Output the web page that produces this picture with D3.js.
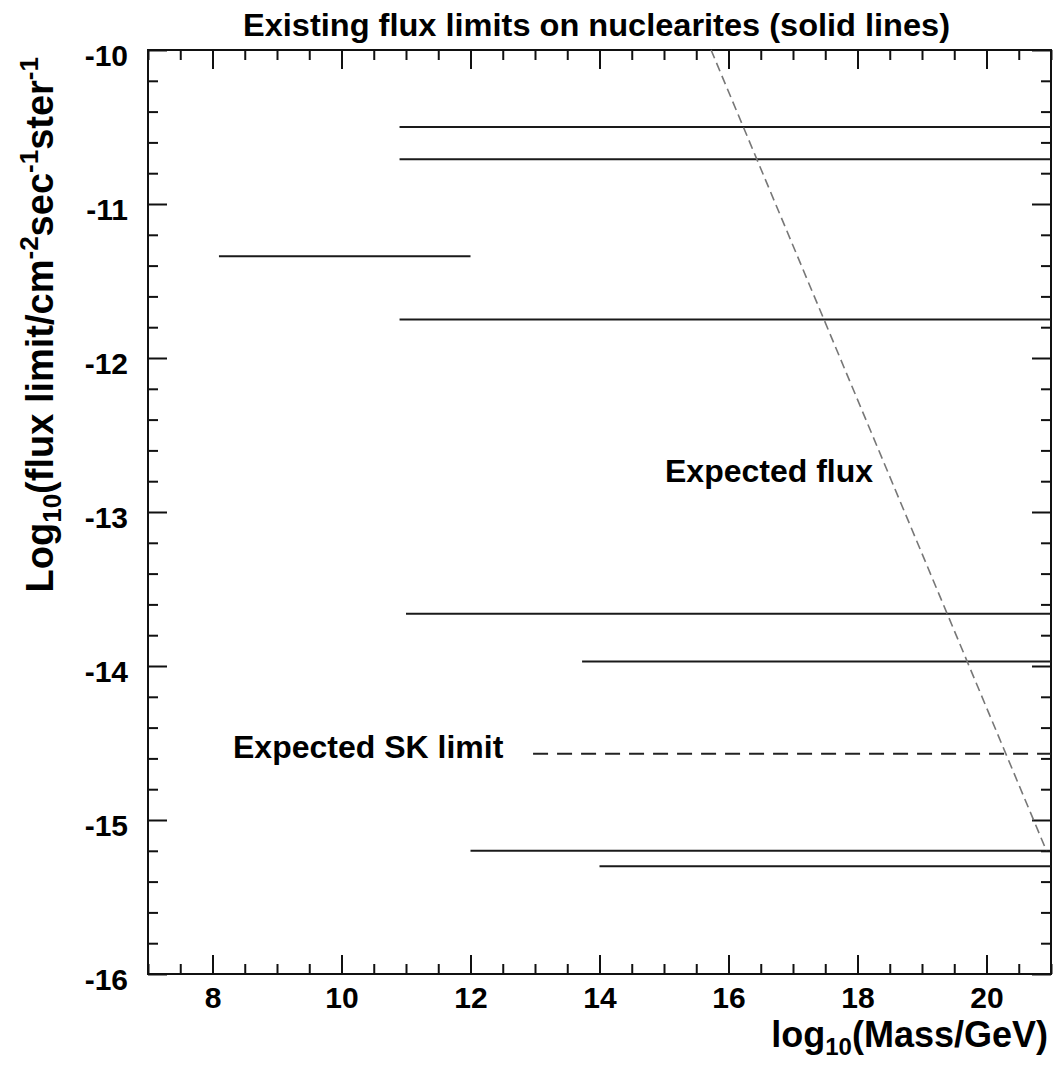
<!DOCTYPE html>
<html>
<head>
<meta charset="utf-8">
<script src="https://cdn.jsdelivr.net/npm/d3@7"></script>
<style>
  body { margin: 0; background: #fff; }
  svg { display: block; }
  text { font-family: "Liberation Sans", Arial, sans-serif; }
</style>
</head>
<body>
<div id="chart"></div>
<script>
// existing limits (solid lines): mass range start/end and flux value
var limitStart = [10.9, 10.9, 8.1, 10.9, 11.0, 13.73, 12.0, 14.0];
var limitEnd   = [21, 21, 12.0, 21, 21, 21, 21, 21];
var limitFlux  = [-10.5, -10.71, -11.34, -11.75, -13.66, -13.97, -15.2, -15.3];

// expected SK limit (dashed)
var skMass = [12.97, 21];
var skFlux = [-14.57, -14.57];

// expected flux (grey dashed diagonal)
var expMass = [15.73, 20.93];
var expFlux = [-10, -15.2];

var xMajor = [8, 10, 12, 14, 16, 18, 20];
var yMajor = [-16, -15, -14, -13, -12, -11, -10];

function init() {
    var W = 1056, H = 1065;
    var margin = { top: 50, right: 5, bottom: 91, left: 148 };
    var w = W - margin.left - margin.right;
    var h = H - margin.top - margin.bottom;

    var root = d3.select("#chart").append("svg")
                 .attr("width", W)
                 .attr("height", H);

    var svg = root.append("g")
                  .attr("transform", "translate(" + margin.left + "," + margin.top + ")");

    var x = d3.scaleLinear().domain([7, 21]).range([0, w]);
    var y = d3.scaleLinear().domain([-16, -10]).range([h, 0]);

    var xMinor = d3.range(7, 21.001, 0.5).filter(v => xMajor.indexOf(v) < 0);
    var yMinor = d3.range(-16, -9.999, 0.2).map(v => +v.toFixed(1)).filter(v => yMajor.indexOf(v) < 0);

    // axes with inward ticks
    function styleAxis(g) {
        g.select(".domain").remove();
        g.selectAll(".tick line").attr("stroke", "#111").attr("stroke-width", 2);
    }

    svg.append("g").attr("transform", "translate(0," + h + ")")
       .call(d3.axisBottom(x).tickValues(xMajor).tickSizeInner(-19).tickSizeOuter(0).tickPadding(13).tickFormat(d3.format("d")))
       .call(styleAxis)
       .selectAll("text")
       .attr("font-size", 30).attr("font-weight", "bold").attr("fill", "#000")
       .attr("font-family", "Liberation Sans, Arial, sans-serif");
    svg.append("g").attr("transform", "translate(0," + h + ")")
       .call(d3.axisBottom(x).tickValues(xMinor).tickSizeInner(-10).tickSizeOuter(0).tickFormat(""))
       .call(styleAxis);
    svg.append("g")
       .call(d3.axisTop(x).tickValues(xMajor).tickSizeInner(-19).tickSizeOuter(0).tickFormat(""))
       .call(styleAxis);
    svg.append("g")
       .call(d3.axisTop(x).tickValues(xMinor).tickSizeInner(-10).tickSizeOuter(0).tickFormat(""))
       .call(styleAxis);

    svg.append("g")
       .call(d3.axisLeft(y).tickValues(yMajor).tickSizeInner(-19).tickSizeOuter(0).tickPadding(20).tickFormat(d => d3.format("d")(d).replace("−", "-")))
       .call(styleAxis)
       .selectAll("text")
       .attr("dy", "0.5em")
       .attr("font-size", 30).attr("font-weight", "bold").attr("fill", "#000")
       .attr("font-family", "Liberation Sans, Arial, sans-serif");
    svg.append("g")
       .call(d3.axisLeft(y).tickValues(yMinor).tickSizeInner(-10).tickSizeOuter(0).tickFormat(""))
       .call(styleAxis);
    svg.append("g").attr("transform", "translate(" + w + ",0)")
       .call(d3.axisRight(y).tickValues(yMajor).tickSizeInner(-19).tickSizeOuter(0).tickFormat(""))
       .call(styleAxis);
    svg.append("g").attr("transform", "translate(" + w + ",0)")
       .call(d3.axisRight(y).tickValues(yMinor).tickSizeInner(-10).tickSizeOuter(0).tickFormat(""))
       .call(styleAxis);

    // frame
    svg.append("rect")
       .attr("x", 0).attr("y", 0).attr("width", w).attr("height", h)
       .attr("fill", "none").attr("stroke", "#111").attr("stroke-width", 2);

    // existing limits
    var limits = limitFlux.map((f, i) => ({ x0: limitStart[i], x1: limitEnd[i], f: f }));
    svg.selectAll(".limit").data(limits).enter().append("line")
       .attr("class", "limit")
       .attr("x1", d => x(d.x0)).attr("x2", d => x(d.x1))
       .attr("y1", d => y(d.f)).attr("y2", d => y(d.f))
       .attr("stroke", "#1a1a1a").attr("stroke-width", 2);

    var line = d3.line().x(d => x(d[0])).y(d => y(d[1]));

    // expected SK limit
    svg.append("path")
       .datum(d3.zip(skMass, skFlux))
       .attr("d", line)
       .attr("fill", "none").attr("stroke", "#222").attr("stroke-width", 2)
       .attr("stroke-dasharray", "15,9");

    // expected flux
    svg.append("path")
       .datum(d3.zip(expMass, expFlux))
       .attr("d", line)
       .attr("fill", "none").attr("stroke", "#777").attr("stroke-width", 1.6)
       .attr("stroke-dasharray", "9,5");

    // labels inside plot
    root.append("text").attr("x", 665).attr("y", 482)
        .attr("font-size", 32).attr("font-weight", "bold").text("Expected flux");
    root.append("text").attr("x", 233).attr("y", 758)
        .attr("font-size", 32).attr("font-weight", "bold").text("Expected SK limit");

    // title
    root.append("text").attr("x", 243).attr("y", 36)
        .attr("font-size", 31).attr("font-weight", "bold")
        .attr("textLength", 707).attr("lengthAdjust", "spacingAndGlyphs")
        .text("Existing flux limits on nuclearites (solid lines)");

    // x axis title
    var xt = root.append("text").attr("x", 1048).attr("y", 1047)
        .attr("text-anchor", "end").attr("font-size", 36).attr("font-weight", "bold");
    xt.append("tspan").text("log");
    xt.append("tspan").attr("font-size", 24).attr("dy", 8).text("10");
    xt.append("tspan").attr("dy", -8).text("(Mass/GeV)");

    // y axis title
    var yt = root.append("text")
        .attr("transform", "translate(53,57) rotate(-90)")
        .attr("text-anchor", "end").attr("font-size", 38).attr("font-weight", "bold");
    yt.append("tspan").text("Log");
    yt.append("tspan").attr("font-size", 26).attr("dy", 8).text("10");
    yt.append("tspan").attr("dy", -8).text("(flux limit/cm");
    yt.append("tspan").attr("font-size", 26).attr("dy", -15).text("-2");
    yt.append("tspan").attr("dy", 15).text("sec");
    yt.append("tspan").attr("font-size", 26).attr("dy", -15).text("-1");
    yt.append("tspan").attr("dy", 15).text("ster");
    yt.append("tspan").attr("font-size", 26).attr("dy", -15).text("-1");
}

window.onload = init;
</script>
</body>
</html>
